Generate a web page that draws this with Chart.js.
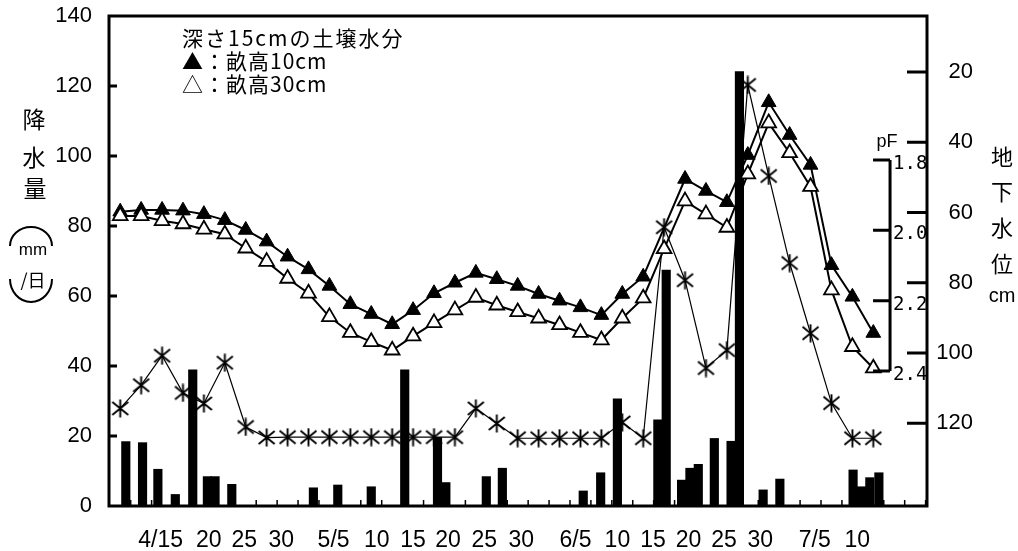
<!DOCTYPE html>
<html>
<head>
<meta charset="utf-8">
<script src="https://cdn.jsdelivr.net/npm/chart.js@4.4.0/dist/chart.umd.min.js"></script>
<style>
  html, body { margin: 0; padding: 0; background: #fff; }
  #wrap { width: 1018px; height: 551px; }
</style>
</head>
<body>
<div id="wrap"><canvas id="chart" width="1018" height="551"></canvas></div>
<script>
// observation days (x position, every 3 days)
const pointDays = [0, 3, 6, 9, 12, 15, 18, 21, 24, 27, 30, 33, 36, 39, 42, 45, 48, 51, 54,
  57, 60, 63, 66, 69, 72, 75, 78, 81, 84, 87, 90, 93, 96, 99, 102, 105, 108];

// soil moisture at 15cm depth (pF)
const ridge10 = [1.947, 1.942, 1.942, 1.944, 1.954, 1.971, 1.999, 2.032, 2.075, 2.111, 2.158,
  2.210, 2.238, 2.267, 2.227, 2.179, 2.149, 2.121, 2.139, 2.158, 2.181, 2.200, 2.219, 2.241,
  2.181, 2.132, null, 1.854, 1.888, 1.920, 1.786, 1.636, 1.729, 1.814, 2.099, 2.189, 2.292];
const ridge30 = [1.959, 1.959, 1.973, 1.982, 1.997, 2.011, 2.051, 2.089, 2.137, 2.179, 2.246,
  2.291, 2.317, 2.341, 2.301, 2.263, 2.227, 2.191, 2.213, 2.232, 2.250, 2.269, 2.291, 2.312,
  2.250, 2.193, 2.053, 1.917, 1.954, 1.992, 1.840, 1.695, 1.780, 1.876, 2.170, 2.331, 2.392];

// groundwater level (cm below surface)
const waterLevel = [115.8, 109.2, 100.8, 111.4, 114.4, 102.8, 121.1, 124.1, 124, 124, 124,
  124, 124, 124, 124, 124, 124, 115.8, 120.1, 124.3, 124.3, 124.3, 124.3, 124.3, 119.8, 124.3,
  64.2, 79.3, 104.3, 99.2, 23.7, 49.6, 74.4, 94.4, 114.3, 124.3, 124.3];

// rainfall (mm/day)
const rainDays = [0.8, 3.2, 5.4, 7.9, 10.4, 12.5, 13.6, 16.0, 27.7, 31.2, 36.0, 40.8, 45.5,
  46.7, 52.5, 54.8, 66.4, 68.9, 71.3, 77.1, 78.3, 80.5, 81.7, 82.9, 85.2, 87.6, 88.8, 92.2,
  94.6, 105.1, 106.3, 107.5, 108.8];
const rainMm = [18.4, 18.1, 10.5, 3.3, 38.9, 8.4, 8.4, 6.2, 5.2, 6.0, 5.5, 38.9, 19.6, 6.7,
  8.4, 10.8, 4.3, 9.5, 30.6, 24.6, 67.4, 7.4, 10.8, 11.9, 19.3, 18.5, 124.1, 4.6, 7.7, 10.3,
  5.5, 8.1, 9.5];

// axis labels
const xTickPos = [5.8, 12.7, 17.8, 23.1, 30.6, 36.8, 42.0, 47.0, 52.2, 57.5, 65.3, 71.3, 76.4,
  81.5, 86.6, 91.8, 99.6, 105.7];
const xTickText = ['4/15', '20', '25', '30', '5/5', '10', '15', '20', '25', '30', '6/5', '10',
  '15', '20', '25', '30', '7/5', '10'];
const gwTicks = [20, 40, 60, 80, 100, 120];
const pfTicks = [1.8, 2.0, 2.2, 2.4];

const legendTitle = '深さ15cmの土壌水分';
const seriesNames = ['畝高10cm', '畝高30cm'];

const CJK = "'Noto Sans CJK JP', sans-serif";
const LATIN = "'Liberation Sans', 'Noto Sans CJK JP', sans-serif";
const pfAxisAt = 110.4;

Chart.defaults.font.family = LATIN;
Chart.defaults.color = '#000';

// asterisk marker
const star = document.createElement('canvas');
star.width = 19;
star.height = 19;
const sc = star.getContext('2d');
sc.strokeStyle = '#000';
sc.lineWidth = 1.9;
sc.beginPath();
sc.moveTo(9.5, 0.5); sc.lineTo(9.5, 18.5);
sc.moveTo(1.5, 3); sc.lineTo(17.5, 16);
sc.moveTo(17.5, 3); sc.lineTo(1.5, 16);
sc.stroke();

const toXY = (days, vals) => days.map((d, i) => ({ x: d, y: vals[i] }));

const decor = {
    id: 'decor',
    afterDraw(chart) {
        const { ctx, chartArea: a, scales } = chart;
        const x = scales.x, y = scales.y, gw = scales.gw, pf = scales.pf;
        ctx.save();
        ctx.strokeStyle = '#000';
        ctx.fillStyle = '#000';

        // pF axis inside the plot
        const px = x.getPixelForValue(pfAxisAt);
        ctx.lineWidth = 3;
        ctx.beginPath();
        ctx.moveTo(px, pf.getPixelForValue(pfTicks[0]));
        ctx.lineTo(px, pf.getPixelForValue(pfTicks[pfTicks.length - 1]));
        pfTicks.forEach(v => {
            const py = pf.getPixelForValue(v);
            ctx.moveTo(px - 17, py);
            ctx.lineTo(px, py);
        });
        ctx.stroke();
        ctx.font = "19px 'DejaVu Sans Mono', monospace";
        ctx.textAlign = 'left';
        ctx.textBaseline = 'middle';
        pfTicks.forEach(v => ctx.fillText(v.toFixed(1), px + 3, pf.getPixelForValue(v) + 4));
        ctx.font = `18px ${LATIN}`;
        ctx.textAlign = 'center';
        ctx.textBaseline = 'alphabetic';
        ctx.fillText('pF', px - 3, 147);

        // frame and inward ticks
        ctx.lineWidth = 3;
        ctx.strokeRect(a.left, a.top, a.right - a.left, a.bottom - a.top);
        ctx.beginPath();
        for (let v = 20; v < 140; v += 20) {
            const py = y.getPixelForValue(v);
            ctx.moveTo(a.left, py);
            ctx.lineTo(a.left + 8, py);
        }
        gwTicks.forEach(v => {
            const py = gw.getPixelForValue(v);
            ctx.moveTo(a.right - 20, py);
            ctx.lineTo(a.right, py);
        });
        ctx.stroke();
        ctx.lineWidth = 1.5;
        ctx.beginPath();
        for (let d = 1.5; d < x.max; d += 3) {
            const tx = x.getPixelForValue(d);
            ctx.moveTo(tx, a.bottom);
            ctx.lineTo(tx, a.bottom - 6);
        }
        ctx.stroke();

        // left axis title
        ctx.textAlign = 'center';
        ctx.textBaseline = 'middle';
        ctx.font = `23px ${CJK}`;
        ctx.fillText('降', 34, 119);
        ctx.fillText('水', 34, 157);
        ctx.fillText('量', 35, 188);
        ctx.lineWidth = 2;
        ctx.beginPath();
        ctx.ellipse(31, 246, 21, 19, 0, Math.PI, 2 * Math.PI);
        ctx.stroke();
        ctx.beginPath();
        ctx.ellipse(31, 279, 21, 23, 0, 0, Math.PI);
        ctx.stroke();
        ctx.font = `17px ${LATIN}`;
        ctx.fillText('mm', 33, 250);
        ctx.font = `18px ${CJK}`;
        ctx.fillText('/日', 33, 280);

        // right axis title
        ctx.font = `22px ${CJK}`;
        ctx.fillText('地', 1002, 157);
        ctx.fillText('下', 1002, 192);
        ctx.fillText('水', 1002, 228);
        ctx.fillText('位', 1002, 264);
        ctx.font = `20px ${LATIN}`;
        ctx.fillText('cm', 1002, 296);

        // legend
        ctx.textAlign = 'left';
        ctx.font = `21px ${CJK}`;
        ctx.letterSpacing = '2px';
        ctx.fillText(legendTitle, 182, 38);
        ctx.letterSpacing = '1px';
        ctx.fillText('▲：' + seriesNames[0], 182, 61);
        ctx.fillText('△：' + seriesNames[1], 182, 84);
        ctx.restore();
    }
};

new Chart(document.getElementById('chart').getContext('2d'), {
    type: 'bar',
    data: {
        datasets: [{
            type: 'line',
            label: seriesNames[0],
            yAxisID: 'pf',
            data: toXY(pointDays, ridge10),
            borderColor: '#000',
            borderWidth: 2,
            pointStyle: 'triangle',
            pointRadius: 8.5,
            pointBackgroundColor: '#000',
            pointBorderColor: '#000',
            pointBorderWidth: 1,
            spanGaps: true,
            order: 2
        }, {
            type: 'line',
            label: seriesNames[1],
            yAxisID: 'pf',
            data: toXY(pointDays, ridge30),
            borderColor: '#000',
            borderWidth: 2,
            pointStyle: 'triangle',
            pointRadius: 8.5,
            pointBackgroundColor: '#fff',
            pointBorderColor: '#000',
            pointBorderWidth: 1.8,
            order: 1
        }, {
            type: 'line',
            label: '地下水位',
            yAxisID: 'gw',
            data: toXY(pointDays, waterLevel),
            borderColor: '#000',
            borderWidth: 1.2,
            pointStyle: star,
            pointRadius: 9,
            order: 3
        }, {
            type: 'bar',
            label: '降水量',
            yAxisID: 'y',
            data: toXY(rainDays, rainMm),
            backgroundColor: '#000',
            barThickness: 8.5,
            order: 4
        }]
    },
    options: {
        responsive: false,
        animation: false,
        devicePixelRatio: 1,
        layout: { padding: { top: 16, left: 0, right: 45, bottom: 0 } },
        plugins: {
            legend: { display: false },
            tooltip: { enabled: false }
        },
        scales: {
            x: {
                type: 'linear',
                min: -1.61,
                max: 115.7,
                offset: false,
                grid: { display: false, drawTicks: true, tickLength: 21 },
                border: { display: false },
                ticks: {
                    autoSkip: false,
                    maxRotation: 0,
                    padding: 0,
                    font: { size: 23 },
                    callback: (v, i) => xTickText[i]
                },
                afterBuildTicks: s => { s.ticks = xTickPos.map(v => ({ value: v })); },
                afterFit: s => { s.height = 45; }
            },
            y: {
                position: 'left',
                min: 0,
                max: 140,
                grid: { display: false, drawTicks: true, tickLength: 17 },
                border: { display: false },
                ticks: { stepSize: 20, padding: 0, font: { size: 22 } },
                afterFit: s => { s.width = 109; }
            },
            gw: {
                position: 'right',
                reverse: true,
                min: 4.05,
                max: 143.6,
                grid: { display: false, drawTicks: false },
                border: { display: false },
                ticks: { padding: 0, crossAlign: 'far', font: { size: 22 } },
                afterBuildTicks: s => { s.ticks = gwTicks.map(v => ({ value: v })); },
                afterFit: s => { s.width = 46; }
            },
            pf: {
                display: false,
                reverse: true,
                min: 1.3906,
                max: 2.7838
            }
        }
    },
    plugins: [decor]
});
</script>
</body>
</html>
